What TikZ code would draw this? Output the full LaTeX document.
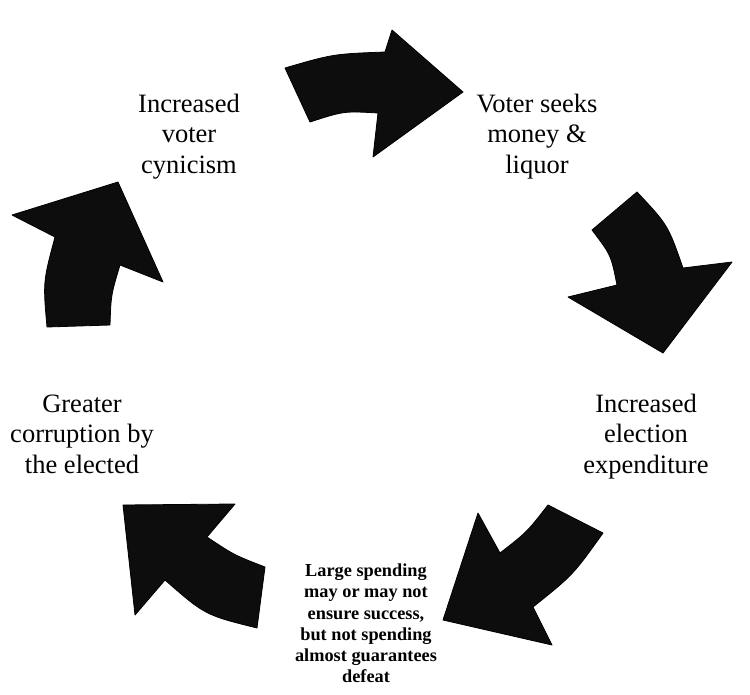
\documentclass[tikz,border=0pt]{standalone}
\usepackage{fontspec}
\setmainfont{Liberation Serif}
\begin{document}
\begin{tikzpicture}[x=1pt,y=-1pt,
  blockarrow/.style={fill=black!95, draw=black, line width=0.8pt, line join=round},
  lbl/.style={align=center, inner sep=0pt, font=\fontsize{26.5}{30.5}\selectfont},
  smalllbl/.style={align=center, inner sep=0pt, font=\bfseries\fontsize{18.3}{21.2}\selectfont}]
\useasboundingbox (0,0) rectangle (750,694);
\fill[white] (0,0) rectangle (750,694);
% labels
\node[lbl] (cyn) at (189,136.5) {Increased\\voter\\cynicism};
\node[lbl] (voter) at (537,136.5) {Voter seeks\\money \&\\liquor};
\node[lbl] (exp) at (646,436.5) {Increased\\election\\expenditure};
\node[smalllbl] (large) at (366,623.5) {Large spending\\may or may not\\ensure success,\\but not spending\\almost guarantees\\defeat};
\node[lbl] (corr) at (82,434) {Greater\\corruption by\\the elected};
% top arrow
\path[blockarrow] (285,68) .. controls (333,54) .. (385,52) -- (392,30) -- (463,92) -- (373,157) -- (378,113) .. controls (344,111) .. (310,122) -- cycle;
% right upper arrow
\path[blockarrow] (637,192) .. controls (668,225) .. (683,268) -- (732,262) -- (663,353) -- (568,297) -- (617,285) .. controls (611,255) .. (592,230) -- cycle;
% lower right arrow
\path[blockarrow] (548,505) -- (603,533) .. controls (573,575) .. (533,607) -- (552,645) -- (443,620) -- (478,513) -- (500,553) .. controls (527,532) .. (548,505) -- cycle;
% lower left arrow
\path[blockarrow] (123,505) -- (235,504) -- (207,537) .. controls (234,555) .. (265,567) -- (257,628) .. controls (205,615) .. (165,580) -- (135,615) -- cycle;
% left arrow
\path[blockarrow] (118,182) -- (163,282) -- (120,265) .. controls (111,295) .. (110,325) -- (47,327) .. controls (43,282) .. (55,237) -- (12,215) -- cycle;
\end{tikzpicture}
\end{document}
